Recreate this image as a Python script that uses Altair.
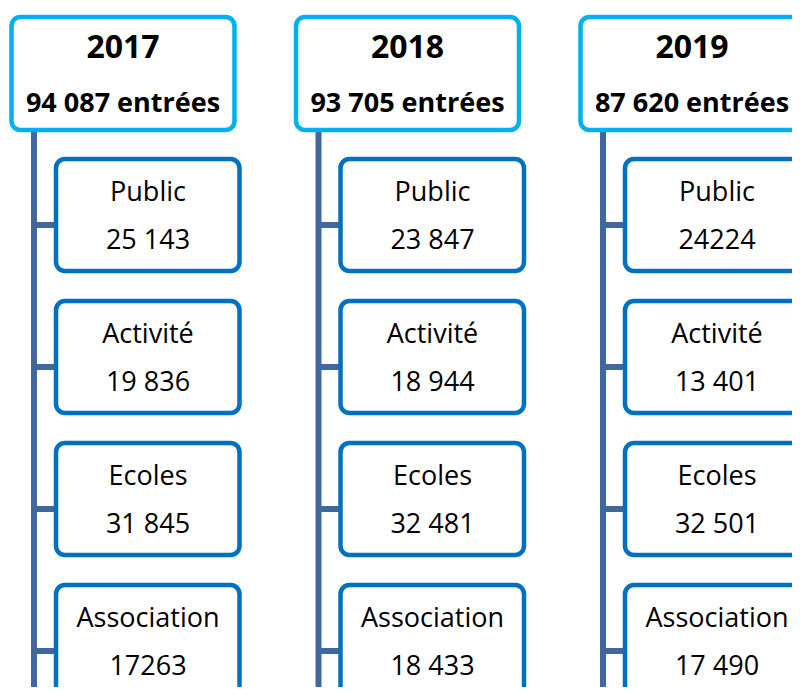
import altair as alt
import pandas as pd

# ---- data ----
years = ["2017", "2018", "2019"]
totals = ["94 087", "93 705", "87 620"]
categories = ["Public", "Activité", "Ecoles", "Association"]
values_2017 = ["25 143", "19 836", "31 845", "17263"]
values_2018 = ["23 847", "18 944", "32 481", "18 433"]
values_2019 = ["24224", "13 401", "32 501", "17 490"]
values = [values_2017, values_2018, values_2019]

# ---- layout (page pixel coordinates) ----
COL_STEP = 284.5
ROW_STEP = 142
FONT = "Open Sans"
W, H = 784, 679  # keeps the page within the 800x695 window (8px body margin)

head_rows = []
for c, (y, t) in enumerate(zip(years, totals)):
    x0 = 11.5 + COL_STEP * c
    head_rows.append(dict(x=x0, x2=x0 + 223, y=17, y2=130, cx=x0 + 111.5,
                          year=y, total=f"{t} entrées", lx=34 + COL_STEP * c))
heads = pd.DataFrame(head_rows)

child_rows = []
for c, vals in enumerate(values):
    x0 = 56 + COL_STEP * c
    for r, (cat, v) in enumerate(zip(categories, vals)):
        top = 159 + ROW_STEP * r
        child_rows.append(dict(x=x0, x2=x0 + 183.5, y=top, y2=top + 112,
                               cx=x0 + 92, ty1=top + 34, ty2=top + 82,
                               cy=top + 66, lx=34 + COL_STEP * c,
                               cat=cat, val=v))
children = pd.DataFrame(child_rows)

xs = alt.Scale(domain=[8, 8 + W], nice=False, zero=False)
ys = alt.Scale(domain=[8 + H, 8], nice=False, zero=False)

def X(f):
    return alt.X(f, type="quantitative", scale=xs, axis=None)

def Y(f):
    return alt.Y(f, type="quantitative", scale=ys, axis=None)

vline = alt.Chart(heads).mark_rule(color="#41689C", strokeWidth=6, clip=True).encode(
    x=X("lx"), y=Y("y2"), y2=alt.Y2("ymax")
).transform_calculate(ymax="720")

conn = alt.Chart(children).mark_rule(color="#41689C", strokeWidth=6, clip=True).encode(
    x=X("lx"), x2=alt.X2("x"), y=Y("cy")
)

head_box = alt.Chart(heads).mark_rect(
    fill="white", stroke="#00B0F0", strokeWidth=4.5, cornerRadius=9, clip=True
).encode(x=X("x"), x2=alt.X2("x2"), y=Y("y"), y2=alt.Y2("y2"))

child_box = alt.Chart(children).mark_rect(
    fill="white", stroke="#0070C0", strokeWidth=4.5, cornerRadius=9, clip=True
).encode(x=X("x"), x2=alt.X2("x2"), y=Y("y"), y2=alt.Y2("y2"))

head_year = alt.Chart(heads).mark_text(
    font=FONT, fontSize=32, fontWeight="bold", color="black", baseline="middle", clip=True
).encode(x=X("cx"), y=alt.value(48 - 8), text="year:N")

head_total = alt.Chart(heads).mark_text(
    font=FONT, fontSize=27, fontWeight="bold", color="black", baseline="middle", clip=True
).encode(x=X("cx"), y=alt.value(104 - 8), text="total:N")

child_cat = alt.Chart(children).mark_text(
    font=FONT, fontSize=27, color="black", baseline="middle", clip=True
).encode(x=X("cx"), y=Y("ty1"), text="cat:N")

child_val = alt.Chart(children).mark_text(
    font=FONT, fontSize=27, color="black", baseline="middle", clip=True
).encode(x=X("cx"), y=Y("ty2"), text="val:N")

chart = alt.layer(
    vline, conn, head_box, child_box, head_year, head_total, child_cat, child_val
).properties(
    width=W, height=H, padding=0,
    autosize=alt.AutoSizeParams(type="none"),
    background="white",
).configure_view(stroke=None)

chart.save("out.html", embed_options={"renderer": "svg", "actions": False})
